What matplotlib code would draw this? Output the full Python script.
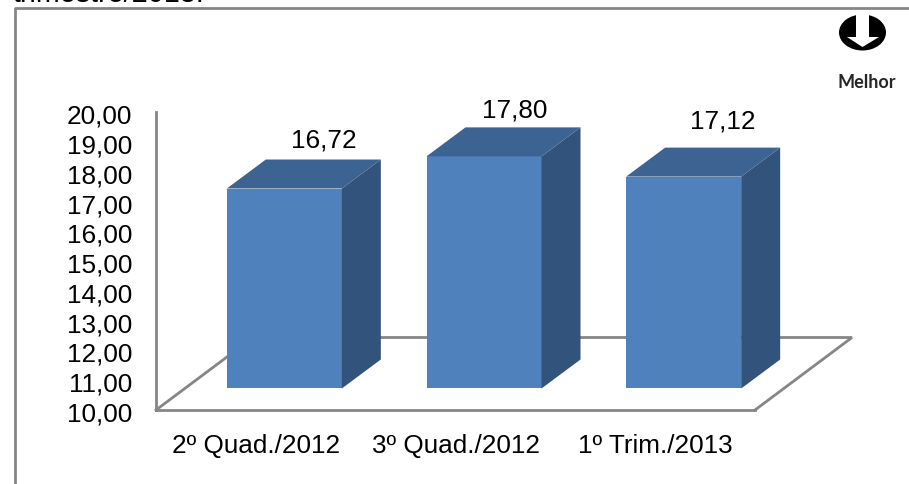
#!/usr/bin/env python3
"""Pseudo-3D bar chart with the floor drawn by hand."""
import matplotlib
matplotlib.use('Agg')
import matplotlib.pyplot as plt
from matplotlib.lines import Line2D
from matplotlib.patches import Ellipse, Polygon
from matplotlib.transforms import ScaledTranslation

plt.rcParams['font.family'] = ['Liberation Sans', 'DejaVu Sans']

categories = ['2º Quad./2012', '3º Quad./2012', '1º Trim./2013']
values = [16.72, 17.80, 17.12]
value_labels = ['16,72', '17,80', '17,12']
y_ticks = list(range(10, 21))
y_tick_labels = [f'{v},00' for v in y_ticks]

W, H = 909, 485
GREY = '#868686'
FRONT = '#4F81BD'
TOP = '#3D6392'
SIDE = '#32537C'
FS = 18.8

# layout in pixels of the reference
AX_L, AX_R, AX_T, AX_B = 156, 755, 113.4, 411


def fx(x):
    return x / W


def fy(y):
    return 1 - y / H


fig = plt.figure(figsize=(W / 100, H / 100), dpi=100, facecolor='white')
ax = fig.add_axes([fx(AX_L), fy(AX_B), fx(AX_R - AX_L), (AX_B - AX_T) / H])
ax.patch.set_alpha(0)
ax.set_xlim(-0.5, 2.5)
ax.set_ylim(10, 20)

x_unit = (AX_R - AX_L) / 3
y_unit = (AX_B - AX_T) / 10

# depth of the plot, and of each bar, in data units
shift_x = 28.5 / x_unit
shift_y = 21.5 / y_unit
depth_x = 39 / x_unit
depth_y = 29 / y_unit
bar_w = 115 / x_unit

floor_dx = 97 / x_unit
floor_dy = 72.5 / y_unit

# floor outline, behind the bars
floor_x = [-0.5, -0.5 + floor_dx, 2.5 + floor_dx, 2.5]
floor_y = [10, 10 + floor_dy, 10 + floor_dy, 10]
ax.plot(floor_x, floor_y, color=GREY, lw=2, clip_on=False, zorder=1,
        solid_joinstyle='miter')

xs = [i + shift_x for i in range(len(values))]
base = 10 + shift_y
ax.bar(xs, [v - 10 for v in values], bottom=base, width=bar_w, color=FRONT,
       clip_on=False, zorder=3)

# value labels sit at hand-placed spots above each bar (baseline)
label_dx = [39.5 / x_unit, 31 / x_unit, 39.5 / x_unit]
label_dy = [42 / y_unit, 40 / y_unit, 49 / y_unit]
for x, v, txt, dx, dy in zip(xs, values, value_labels, label_dx, label_dy):
    v_top = v + shift_y
    r = x + bar_w / 2
    l = x - bar_w / 2
    ax.add_patch(Polygon([(r, base), (r + depth_x, base + depth_y),
                          (r + depth_x, v_top + depth_y), (r, v_top)],
                         facecolor=SIDE, edgecolor='none', clip_on=False, zorder=3))
    ax.add_patch(Polygon([(l, v_top), (l + depth_x, v_top + depth_y),
                          (r + depth_x, v_top + depth_y), (r, v_top)],
                         facecolor=TOP, edgecolor='none', clip_on=False, zorder=3))
    ax.text(x + dx, v_top + dy, txt, ha='center', va='baseline', fontsize=FS,
            color='black', clip_on=False)

for s in ['top', 'right']:
    ax.spines[s].set_visible(False)
for s in ['left', 'bottom']:
    ax.spines[s].set_color(GREY)
    ax.spines[s].set_linewidth(2)

ax.set_xticks(range(len(categories)), categories)
ax.set_yticks(y_ticks, y_tick_labels)
ax.tick_params(axis='y', length=0, pad=17, labelsize=FS)
ax.tick_params(axis='x', length=0, pad=30.2, labelsize=FS)
plt.setp(ax.get_xticklabels(), va='baseline')
down = ScaledTranslation(0, -1 / 100, fig.dpi_scale_trans)
for lab in ax.get_yticklabels():
    lab.set_transform(lab.get_transform() + down)

# outer frame, cut off at the right and bottom of the picture
fig.add_artist(Line2D([fx(15), fx(15), fx(W)], [0, fy(8.5), fy(8.5)], color=GREY, lw=2))

# sentence running into the picture from the page above
fig.text(fx(13), fy(2), 'trimestre/2013.', fontsize=20.7, ha='left', va='baseline')

# "better" arrow: black ellipse with a white arrow over it
fig.add_artist(Ellipse((fx(862.5), fy(33.5)), 47 / W, 36 / H, transform=fig.transFigure,
                       facecolor='black', edgecolor='none'))
arrow = [(856, 12), (869, 12), (869, 38), (879, 38), (862.5, 48), (847, 38), (856, 38)]
fig.add_artist(Polygon([(fx(x), fy(y)) for x, y in arrow], transform=fig.transFigure,
                       facecolor='white', edgecolor='none'))
fig.text(fx(866.5), fy(88), 'Melhor', family=['Lato', 'DejaVu Sans'], fontweight='bold',
         fontsize=13, color='#262626', ha='center', va='baseline')

fig.savefig('out.png', dpi=100)
